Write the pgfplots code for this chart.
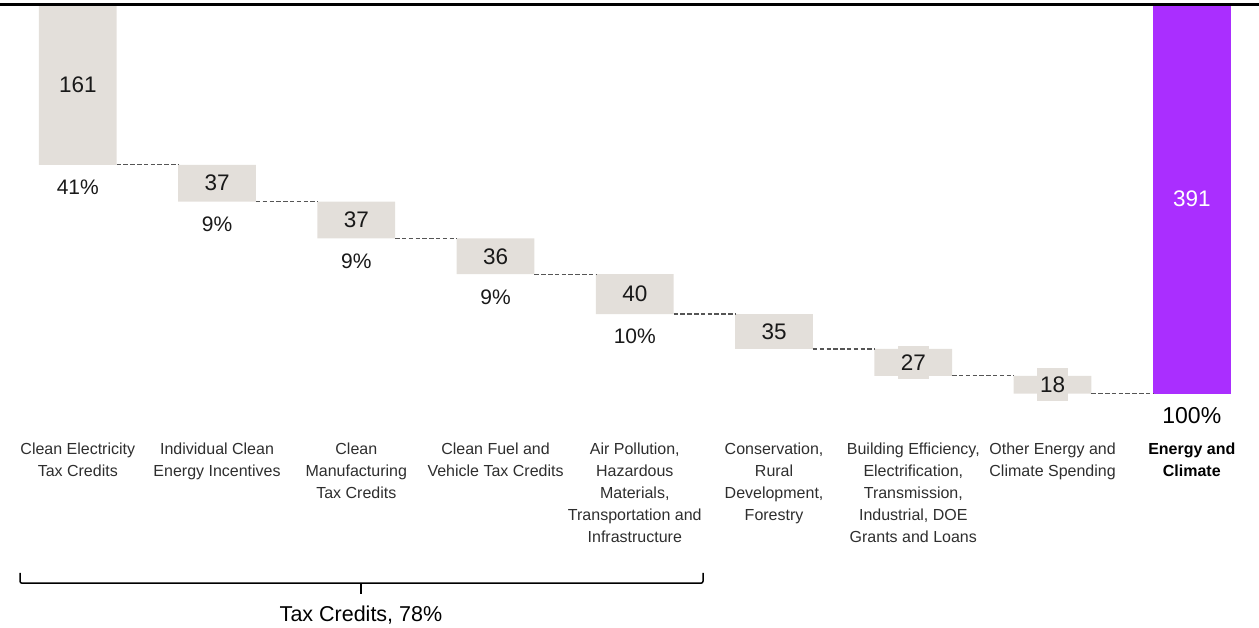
\documentclass[border=0pt]{standalone}
\usepackage{pgfplots}
\pgfplotsset{compat=1.18}
\usepackage{pgfplotstable}
\usepackage{fontspec}
\setmainfont{Liberation Sans}
\definecolor{barg}{HTML}{E3DFDA}
\definecolor{purp}{HTML}{AA2EFF}
\definecolor{txt}{HTML}{2E2E2E}
\definecolor{dashc}{HTML}{555555}

\pgfplotstableread{
x base val tot
0 230 161 0
1 193 37 0
2 156 37 0
3 120 36 0
4 80 40 0
5 45 35 0
6 18 27 0
7 0 18 0
8 0 0 391
}\wf

\pgfplotsset{wfaxis/.style={scale only axis, width=1259pt, height=389.2pt,
  xmin=-0.5587, xmax=8.4826, ymin=0, ymax=391, clip=false,
  at={(0pt,0pt)}, anchor=south west}}

\begin{document}
\begin{tikzpicture}
\path[use as bounding box] (0pt,-234.3pt) rectangle (1259pt,393.7pt);
\begin{axis}[wfaxis, hide axis, ybar stacked, bar width=0.558]
\addplot[draw=none, fill=none] table[x=x,y=base]{\wf};
\addplot[draw=none, fill=barg] table[x=x,y=val]{\wf};
\addplot[draw=none, fill=purp] table[x=x,y=tot]{\wf};
\end{axis}
\begin{axis}[wfaxis, axis line style={draw=none}, tick style={draw=none},
  major tick length=0pt, ytick=\empty, xtick={0,...,8},
  xticklabels={{Clean Electricity\\Tax Credits},{Individual Clean\\Energy Incentives},{Clean\\Manufacturing\\Tax Credits},{Clean Fuel and\\Vehicle Tax Credits},{Air Pollution,\\Hazardous\\Materials,\\Transportation and\\Infrastructure},{Conservation,\\Rural\\Development,\\Forestry},{Building Efficiency,\\Electrification,\\Transmission,\\Industrial, DOE\\Grants and Loans},{Other Energy and\\Climate Spending},{\textcolor{black}{\textbf{Energy and}}\\\textcolor{black}{\textbf{Climate}}}},
  xticklabel style={font=\fontsize{16}{22}\selectfont, align=center, anchor=north, inner sep=0pt, yshift=-48.8pt, text=txt},
  unbounded coords=jump]
\addplot[dashc, line width=1.2pt, dash pattern=on 4.5pt off 2.3pt] coordinates {
 (0.279,230)(0.721,230)(0.75,nan)
 (1.279,193)(1.721,193)(1.75,nan)
 (2.279,156)(2.721,156)(2.75,nan)
 (3.279,120)(3.721,120)(3.75,nan)
 (4.279,80)(4.721,80)(4.75,nan)
 (5.279,45)(5.721,45)(5.75,nan)
 (6.279,18)(6.721,18)(6.75,nan)
 (7.279,0)(7.721,0)};
\addplot[black, line width=2.3pt] coordinates {(-0.5587,391)(8.4826,391)};
% value labels
\begin{scope}[every node/.style={font=\fontsize{22.5}{26}\selectfont, text=black!90, fill=barg, inner xsep=3pt, inner ysep=0pt, minimum height=33pt}]
\node at (axis cs:0,310.5) {161};
\node at (axis cs:1,211.5) {37};
\node at (axis cs:2,174.5) {37};
\node at (axis cs:3,138) {36};
\node at (axis cs:4,100) {40};
\node at (axis cs:5,62.5) {35};
\node at (axis cs:6,31.5) {27};
\node at (axis cs:7,9) {18};
\end{scope}
\node[font=\fontsize{22.5}{26}\selectfont, text=white] at (axis cs:8,195.5) {391};
% percentages
\begin{scope}[every node/.style={font=\fontsize{21}{25}\selectfont, text=black!90, yshift=-22.7pt}]
\node at (axis cs:0,230) {41\%};
\node at (axis cs:1,193) {9\%};
\node at (axis cs:2,156) {9\%};
\node at (axis cs:3,120) {9\%};
\node at (axis cs:4,80) {10\%};
\end{scope}
\node[font=\fontsize{23}{27}\selectfont, text=black, yshift=-21.5pt] at (axis cs:8,0) {100\%};
\end{axis}
% brace annotation
\draw[black, line width=1.5pt, rounded corners=2pt] (20pt,-179.3pt) |- (703pt,-189.5pt) -- (703pt,-179.3pt);
\draw[black, line width=1.5pt] (361pt,-189.5pt) -- (361pt,-200.3pt);
\node[font=\fontsize{21.5}{26}\selectfont, text=black] at (361pt,-221.3pt) {Tax Credits, 78\%};
\end{tikzpicture}
\end{document}
